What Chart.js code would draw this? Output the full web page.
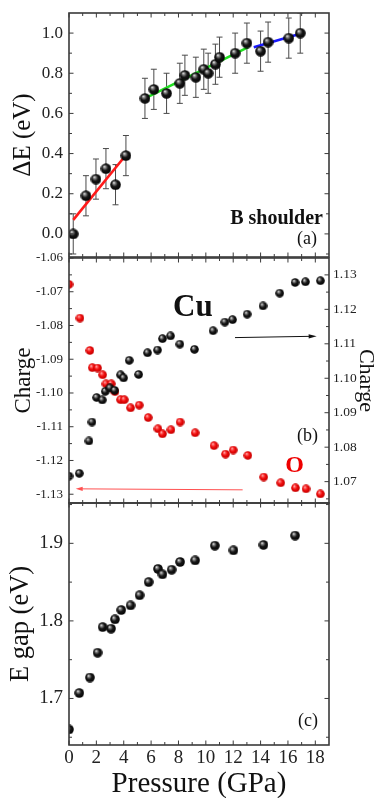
<!DOCTYPE html>
<html>
<head>
<meta charset="utf-8">
<script src="https://cdn.jsdelivr.net/npm/chart.js@4.4.1/dist/chart.umd.min.js"></script>
<style>
  html, body { margin: 0; padding: 0; background: #fff; }
  #wrap { position: relative; width: 376px; height: 798px; overflow: hidden; }
  canvas { position: absolute; left: 0; top: 0; }
</style>
</head>
<body>
<div id="wrap">
  <canvas id="chartA" width="376" height="798"></canvas>
  <canvas id="chartB" width="376" height="798"></canvas>
  <canvas id="chartC" width="376" height="798"></canvas>
</div>
<script>
// ---- panel (a): B shoulder
const pressureA = [0.31, 1.24, 1.97, 2.70, 3.40, 4.16, 5.55, 6.20, 7.13, 8.10, 8.47, 9.27, 9.85, 10.17, 10.70, 11.00, 12.14, 13.00, 14.00, 14.55, 16.06, 16.90];
const deltaE = [0.00, 0.19, 0.273, 0.325, 0.245, 0.39, 0.675, 0.72, 0.70, 0.75, 0.79, 0.78, 0.82, 0.80, 0.845, 0.88, 0.90, 0.95, 0.91, 0.955, 0.975, 1.00];
const deltaErr = [0.1, 0.1, 0.1, 0.1, 0.1, 0.1, 0.1, 0.1, 0.1, 0.1, 0.1, 0.1, 0.1, 0.1, 0.1, 0.1, 0.1, 0.1, 0.1, 0.1, 0.1, 0.1];
const fitRedX = [0.31, 4.16];
const fitRedY = [0.07, 0.393];
const fitGreenX = [5.55, 13.1];
const fitGreenY = [0.675, 0.93];
const fitBlueX = [13.5, 16.9];
const fitBlueY = [0.93, 0.997];

// ---- panel (b): charges
const pressureCu = [0, 0.75, 1.46, 1.68, 2.02, 2.43, 2.65, 2.99, 3.33, 3.77, 3.99, 4.40, 5.09, 5.74, 6.47, 6.83, 7.42, 8.10, 9.17, 10.53, 11.39, 11.95, 13.02, 14.18, 15.40, 16.52, 17.28, 18.37];
const chargeCu = [1.0716, 1.0724, 1.0818, 1.0873, 1.0944, 1.0937, 1.0962, 1.0972, 1.0965, 1.1010, 1.1001, 1.1052, 1.1011, 1.1074, 1.1082, 1.1115, 1.1123, 1.1099, 1.1084, 1.1138, 1.1163, 1.1170, 1.1186, 1.1210, 1.1247, 1.1278, 1.1280, 1.1283];
const pressureO = [0, 0.80, 1.53, 1.70, 2.09, 2.46, 2.70, 3.09, 3.36, 3.77, 4.04, 4.50, 5.13, 5.79, 6.50, 6.83, 7.45, 8.12, 9.22, 10.60, 11.44, 12.00, 13.07, 14.23, 15.47, 16.55, 17.32, 18.37];
const chargeO = [-1.0678, -1.0778, -1.0874, -1.0925, -1.0926, -1.0946, -1.0973, -1.0973, -1.0996, -1.1020, -1.1020, -1.1044, -1.1036, -1.1073, -1.1106, -1.1121, -1.1109, -1.1086, -1.1118, -1.1156, -1.1181, -1.1169, -1.1185, -1.1249, -1.1266, -1.1281, -1.1284, -1.1299];

// ---- panel (c): energy gap
const pressureC = [0, 0.75, 1.53, 2.09, 2.46, 3.07, 3.36, 3.82, 4.50, 5.16, 5.82, 6.50, 6.83, 7.50, 8.12, 9.22, 10.66, 12.02, 14.21, 16.52];
const egap = [1.660, 1.707, 1.727, 1.759, 1.792, 1.790, 1.802, 1.814, 1.820, 1.833, 1.850, 1.867, 1.860, 1.866, 1.876, 1.878, 1.897, 1.891, 1.898, 1.910];

// ticks
const xLabelTicks = [0, 2, 4, 6, 8, 10, 12, 14, 16, 18];
const xMinorTicks = [1, 3, 5, 7, 9, 11, 13, 15, 17];
const aTicks = [0, 0.2, 0.4, 0.6, 0.8, 1.0];
const aMinor = [-0.1, 0.1, 0.3, 0.5, 0.7, 0.9];
const bLeftTicks = [-1.06, -1.07, -1.08, -1.09, -1.10, -1.11, -1.12, -1.13];
const bLeftMinor = [-1.065, -1.075, -1.085, -1.095, -1.105, -1.115, -1.125];
const bRightTicks = [1.07, 1.08, 1.09, 1.10, 1.11, 1.12, 1.13];
const bRightMinor = [1.065, 1.075, 1.085, 1.095, 1.105, 1.115, 1.125];
const cTicks = [1.7, 1.8, 1.9];
const cMinor = [1.65, 1.75, 1.85, 1.95];

const FONT = "'Liberation Serif', 'Times New Roman', serif";
const FRAME = "#3a3a3a";

function makeBall(size, c0, c1, c2, c3) {
  const cv = document.createElement("canvas");
  cv.width = cv.height = size;
  const g = cv.getContext("2d");
  const r = size / 2;
  const grad = g.createRadialGradient(r * 0.68, r * 0.6, 0, r, r, r * 1.1);
  grad.addColorStop(0, c0);
  grad.addColorStop(0.2, c1);
  grad.addColorStop(0.5, c2);
  grad.addColorStop(1, c3);
  g.fillStyle = grad;
  g.beginPath();
  g.arc(r, r, r - 0.2, 0, Math.PI * 2);
  g.fill();
  return cv;
}
const blackBall = (s) => makeBall(s, "#ffffff", "#8c8c8c", "#161616", "#000000");
const redBall = (s) => makeBall(s, "#ffe4e4", "#ff6464", "#ee0a0a", "#b80000");

const pts = (xs, ys) => xs.map((x, i) => ({ x: x, y: ys[i] }));

function yScale(min, max, values, digits, fontSize, width, position, title) {
  return {
    type: "linear",
    position: position,
    min: min,
    max: max,
    grid: { display: false, drawTicks: false },
    border: { display: false },
    afterBuildTicks: (s) => { s.ticks = values.map((v) => ({ value: v })); },
    afterFit: (s) => { s.width = width; s.paddingTop = 0; s.paddingBottom = 0; },
    ticks: {
      autoSkip: false,
      callback: (v) => Number(v).toFixed(digits),
      padding: position === "left" ? 6 : 4,
      color: "#222",
      font: { family: FONT, size: fontSize },
    },
    title: title,
  };
}

function xScale(show) {
  return {
    type: "linear",
    min: 0,
    max: 19,
    display: show,
    grid: { display: false, drawTicks: false },
    border: { display: false },
    afterBuildTicks: (s) => { s.ticks = xLabelTicks.map((v) => ({ value: v })); },
    afterFit: (s) => {
      if (show) s.height = 53;
      s.paddingLeft = 0;
      s.paddingRight = 0;
    },
    ticks: { autoSkip: false, maxRotation: 0, padding: 2, color: "#222", font: { family: FONT, size: 19 } },
    title: {
      display: show,
      text: "Pressure (GPa)",
      color: "#111",
      font: { family: FONT, size: 29, lineHeight: 1 },
      padding: { top: 0, bottom: -0.5 },
    },
  };
}

function tickSet(ctx, area, scale, values, len, side) {
  values.forEach((v) => {
    const p = scale.getPixelForValue(v);
    ctx.beginPath();
    if (side === "bottom") { ctx.moveTo(p, area.bottom); ctx.lineTo(p, area.bottom - len); }
    if (side === "top") { ctx.moveTo(p, area.top); ctx.lineTo(p, area.top + len); }
    if (side === "left") { ctx.moveTo(area.left, p); ctx.lineTo(area.left + len, p); }
    if (side === "right") { ctx.moveTo(area.right, p); ctx.lineTo(area.right - len, p); }
    ctx.stroke();
  });
}

function drawFrame(chart, leftMaj, leftMin, rightId, rightMaj, rightMin) {
  const ctx = chart.ctx;
  const area = chart.chartArea;
  const x = chart.scales.x;
  const yl = chart.scales.y;
  const yr = chart.scales[rightId] || yl;
  ctx.save();
  ctx.strokeStyle = FRAME;
  ctx.lineWidth = 1;
  ["bottom", "top"].forEach((side) => {
    tickSet(ctx, area, x, xLabelTicks, 4.5, side);
    tickSet(ctx, area, x, xMinorTicks, 3, side);
  });
  tickSet(ctx, area, yl, leftMaj, 4.5, "left");
  tickSet(ctx, area, yl, leftMin, 3, "left");
  tickSet(ctx, area, yr, rightMaj, 4.5, "right");
  tickSet(ctx, area, yr, rightMin, 3, "right");
  ctx.lineWidth = 1.6;
  ctx.strokeRect(area.left, area.top, area.right - area.left, area.bottom - area.top);
  ctx.restore();
}

function arrow(ctx, x1, y1, x2, y2, color, head, half) {
  const a = Math.atan2(y2 - y1, x2 - x1);
  ctx.save();
  ctx.strokeStyle = color;
  ctx.fillStyle = color;
  ctx.lineWidth = 1;
  ctx.beginPath();
  ctx.moveTo(x1, y1);
  ctx.lineTo(x2 - Math.cos(a) * head * 0.6, y2 - Math.sin(a) * head * 0.6);
  ctx.stroke();
  ctx.translate(x2, y2);
  ctx.rotate(a);
  ctx.beginPath();
  ctx.moveTo(0, 0);
  ctx.lineTo(-head, -half);
  ctx.lineTo(-head, half);
  ctx.closePath();
  ctx.fill();
  ctx.restore();
}

function label(ctx, text, x, y, size, bold, color, align) {
  ctx.save();
  ctx.font = (bold ? "bold " : "") + size + "px " + FONT;
  ctx.fillStyle = color;
  ctx.textAlign = align;
  ctx.textBaseline = "alphabetic";
  ctx.fillText(text, x, y);
  ctx.restore();
}

const common = {
  responsive: false,
  animation: false,
  events: [],
  plugins: { legend: { display: false }, tooltip: { enabled: false } },
};

// ---------------- panel (a)
new Chart(document.getElementById("chartA"), {
  type: "scatter",
  data: {
    datasets: [
      { data: pts(pressureA, deltaE), pointStyle: blackBall(11), pointRadius: 5.5 },
      { data: pts(fitRedX, fitRedY), showLine: true, borderColor: "#ff1a1a", borderWidth: 2.6, pointRadius: 0 },
      { data: pts(fitGreenX, fitGreenY), showLine: true, borderColor: "#22e022", borderWidth: 2.6, pointRadius: 0 },
      { data: pts(fitBlueX, fitBlueY), showLine: true, borderColor: "#1a1aff", borderWidth: 2.6, pointRadius: 0 },
    ],
  },
  options: Object.assign({}, common, {
    layout: { padding: { left: 0, top: 13, right: 47, bottom: 541 } },
    scales: {
      x: xScale(false),
      y: yScale(-0.115, 1.1, aTicks, 1, 17, 69, "left", {
        display: true, text: "ΔE (eV)", color: "#111",
        font: { family: FONT, size: 25, lineHeight: 1 }, padding: { top: 11, bottom: 0 },
      }),
    },
  }),
  plugins: [{
    id: "errA",
    beforeDatasetsDraw(chart) {
      const ctx = chart.ctx;
      const x = chart.scales.x, y = chart.scales.y, area = chart.chartArea;
      ctx.save();
      ctx.beginPath();
      ctx.rect(area.left, area.top, area.right - area.left, area.bottom - area.top);
      ctx.clip();
      ctx.strokeStyle = "#4a4a4a";
      ctx.lineWidth = 1;
      pressureA.forEach((p, i) => {
        const px = x.getPixelForValue(p);
        const t = y.getPixelForValue(deltaE[i] + deltaErr[i]);
        const b = y.getPixelForValue(deltaE[i] - deltaErr[i]);
        ctx.beginPath();
        ctx.moveTo(px, t); ctx.lineTo(px, b);
        ctx.moveTo(px - 3, t); ctx.lineTo(px + 3, t);
        ctx.moveTo(px - 3, b); ctx.lineTo(px + 3, b);
        ctx.stroke();
      });
      ctx.restore();
    },
    afterDraw(chart) {
      drawFrame(chart, aTicks, aMinor, "y", aTicks, aMinor);
      const area = chart.chartArea;
      label(chart.ctx, "B shoulder", area.right - 6, area.bottom - 33, 20, true, "#111", "right");
      label(chart.ctx, "(a)", area.right - 12, area.bottom - 13, 18, false, "#111", "right");
    },
  }],
});

// ---------------- panel (b)
new Chart(document.getElementById("chartB"), {
  type: "scatter",
  data: {
    datasets: [
      { data: pts(pressureCu, chargeCu), yAxisID: "yR", pointStyle: blackBall(9), pointRadius: 4.5 },
      { data: pts(pressureO, chargeO), yAxisID: "y", pointStyle: redBall(9), pointRadius: 4.5 },
    ],
  },
  options: Object.assign({}, common, {
    layout: { padding: { left: 0, top: 258, right: 0, bottom: 295 } },
    scales: {
      x: xScale(false),
      y: yScale(-1.1326, -1.06, bLeftTicks, 2, 13, 69, "left", {
        display: true, text: "Charge", color: "#111",
        font: { family: FONT, size: 23, lineHeight: 1 }, padding: { top: 12.5, bottom: 0 },
      }),
      yR: yScale(1.0638, 1.1349, bRightTicks, 2, 13.5, 47, "right", {
        display: true, text: "Charge", color: "#111",
        font: { family: FONT, size: 22, lineHeight: 1 }, padding: { top: -1, bottom: 0 },
      }),
    },
  }),
  plugins: [{
    id: "decorB",
    afterDraw(chart) {
      drawFrame(chart, bLeftTicks, bLeftMinor, "yR", bRightTicks, bRightMinor);
      const ctx = chart.ctx;
      const x = chart.scales.x, yl = chart.scales.y, yr = chart.scales.yR;
      const area = chart.chartArea;
      arrow(ctx, x.getPixelForValue(12.13), yr.getPixelForValue(1.1118), x.getPixelForValue(18.1), yr.getPixelForValue(1.1122), "#111", 8, 2.2);
      arrow(ctx, x.getPixelForValue(12.69), yl.getPixelForValue(-1.1287), x.getPixelForValue(0.49), yl.getPixelForValue(-1.1284), "#ff5050", 7, 2.2);
      label(ctx, "Cu", x.getPixelForValue(7.6), area.top + 58, 31, true, "#111", "left");
      label(ctx, "O", x.getPixelForValue(15.8), area.bottom - 31, 24, true, "#ee0000", "left");
      label(ctx, "(b)", area.right - 11, area.bottom - 62, 18, false, "#111", "right");
    },
  }],
});

// ---------------- panel (c)
new Chart(document.getElementById("chartC"), {
  type: "scatter",
  data: {
    datasets: [
      { data: pts(pressureC, egap), pointStyle: blackBall(10), pointRadius: 5 },
    ],
  },
  options: Object.assign({}, common, {
    layout: { padding: { left: 0, top: 503, right: 47, bottom: 0 } },
    scales: {
      x: xScale(true),
      y: yScale(1.64, 1.952, cTicks, 1, 19, 69, "left", {
        display: true, text: "E gap (eV)", color: "#111",
        font: { family: FONT, size: 26.5, lineHeight: 1 }, padding: { top: 7.5, bottom: 0 },
      }),
    },
  }),
  plugins: [{
    id: "decorC",
    afterDraw(chart) {
      drawFrame(chart, cTicks, cMinor, "y", cTicks, cMinor);
      const area = chart.chartArea;
      label(chart.ctx, "(c)", area.right - 11, area.bottom - 19, 18, false, "#111", "right");
    },
  }],
});
</script>
</body>
</html>
